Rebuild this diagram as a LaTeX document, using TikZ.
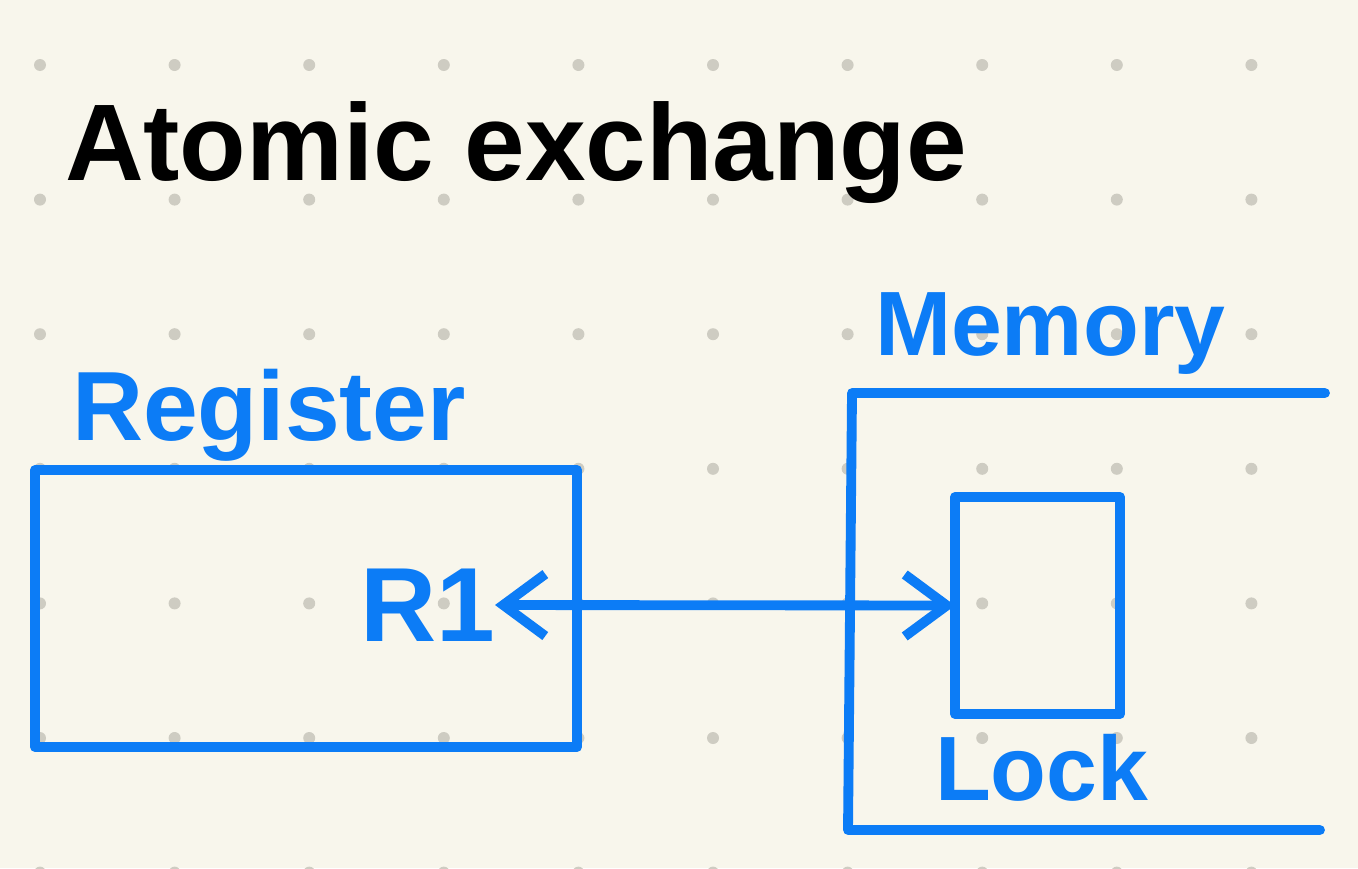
\documentclass[tikz,border=0pt]{standalone}
\usepackage{fontspec}
\setmainfont{Liberation Sans}
\usetikzlibrary{arrows.meta}
\definecolor{paper}{RGB}{248,246,236}
\definecolor{dotgrey}{RGB}{206,204,194}
\definecolor{inkblue}{RGB}{12,124,246}
\begin{document}
\begin{tikzpicture}[line join=round, line cap=round, every node/.style={inner sep=0pt, outer sep=0pt}, ink/.style={draw=inkblue, line width=2.8pt}, lbl/.style={text=inkblue, anchor=base west, font=\bfseries\fontsize{26}{28}\selectfont}, arr/.style={ink, {Straight Barb[length=0.42cm, width=0.62cm]}-{Straight Barb[length=0.42cm, width=0.62cm]}}]
        \fill[paper] (0, 0) rectangle (13.58, 8.68);
        \useasboundingbox (0, 0) rectangle (13.58, 8.68);
        \foreach \i in {0,...,9}
            \foreach \j in {0,...,6}
                \fill[dotgrey] (0.40 + 1.346*\i, 8.03 - 1.346*\j) circle (0.06);
        \node[anchor=base west, font=\bfseries\fontsize{31}{33}\selectfont] (title) at (0.65, 6.88) {Atomic exchange};
        \node[lbl, font=\bfseries\fontsize{28}{30}\selectfont] (reglabel) at (0.72, 4.28) {Register};
        \draw[ink] (0.35, 3.98) rectangle (5.77, 1.21);
        \node[lbl, anchor=east, font=\bfseries\fontsize{30}{32}\selectfont] (r1) at (4.95, 2.63) {R1};
        \node[lbl] (memlabel) at (8.75, 5.13) {Memory};
        \draw[ink] (13.25, 4.75) -- (8.52, 4.75) -- (8.48, 0.38) -- (13.20, 0.38);
        \node[ink, minimum width=1.65cm, minimum height=2.17cm] (lock) at (10.375, 2.625) {};
        \node[lbl] (locklabel) at (9.35, 0.68) {Lock};
        \draw[arr] (r1.east) -- (lock.west);
    \end{tikzpicture}
\end{document}
